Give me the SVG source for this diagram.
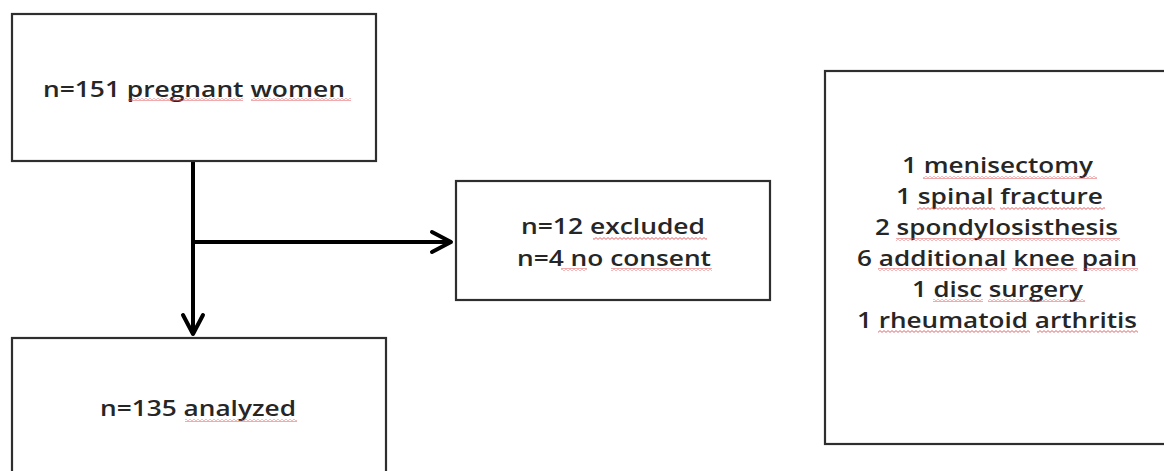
<svg xmlns="http://www.w3.org/2000/svg" width="1164" height="471" viewBox="0 0 1164 471">
<style>
.box{fill:#ffffff;stroke:#2e2e2e;stroke-width:2.2}
.lbl{font-family:"Open Sans","Liberation Sans",sans-serif;font-size:22px;font-weight:600;fill:#262626}
.conn{fill:none;stroke:#000000;stroke-width:4}
.sq{fill:url(#wave)}
</style>
<defs>
<pattern id="wave" patternUnits="userSpaceOnUse" x="0" y="0" width="4" height="3">
<path d="M0,0.6 L2,2.4 L4,0.6" fill="none" stroke="#e0555a" stroke-width="0.9"/>
</pattern>
<marker id="arr" markerUnits="userSpaceOnUse" viewBox="-26 -14 30 28" markerWidth="30" markerHeight="28" refX="0" refY="0" orient="auto">
<path d="M-19,-10 L0,0 L-19,10" fill="none" stroke="#000000" stroke-width="4" stroke-linejoin="round" stroke-linecap="round"/>
</marker>
</defs>
<rect width="1164" height="471" fill="#ffffff"/>
<g id="connectors">
<path class="conn" d="M193,161 L193,334" marker-end="url(#arr)"/>
<path class="conn" d="M193,242 L451,242" marker-end="url(#arr)"/>
</g>
<g id="node-pregnant">
<rect class="box" x="12" y="14" width="364" height="147"/>
<text class="lbl" x="43" y="97" textLength="302" lengthAdjust="spacingAndGlyphs">n=151  pregnant women</text>
<rect class="sq" x="128" y="98" width="115" height="3"/>
<rect class="sq" x="251" y="98" width="100" height="3"/>
</g>
<g id="node-excluded">
<rect class="box" x="456" y="181" width="314" height="119"/>
<text class="lbl" x="521" y="234" textLength="184" lengthAdjust="spacingAndGlyphs">n=12 excluded</text>
<text class="lbl" x="517" y="266" textLength="194" lengthAdjust="spacingAndGlyphs">n=4 no consent</text>
<rect class="sq" x="593" y="237" width="114" height="3"/>
<rect class="sq" x="561" y="268" width="26" height="3"/>
<rect class="sq" x="611" y="268" width="101" height="3"/>
</g>
<g id="node-analyzed">
<rect class="box" x="12" y="338" width="374" height="200"/>
<text class="lbl" x="100" y="416" textLength="196" lengthAdjust="spacingAndGlyphs">n=135 analyzed</text>
<rect class="sq" x="185" y="419" width="112" height="3"/>
</g>
<g id="node-conditions">
<rect class="box" x="825" y="71" width="400" height="373"/>
<text class="lbl" x="902" y="173" textLength="191" lengthAdjust="spacingAndGlyphs">1 menisectomy</text>
<text class="lbl" x="896" y="204" textLength="207" lengthAdjust="spacingAndGlyphs">1 spinal fracture</text>
<text class="lbl" x="875" y="235" textLength="243" lengthAdjust="spacingAndGlyphs">2 spondylosisthesis</text>
<text class="lbl" x="857" y="266" textLength="280" lengthAdjust="spacingAndGlyphs">6 additional knee pain</text>
<text class="lbl" x="912" y="297" textLength="171" lengthAdjust="spacingAndGlyphs">1 disc surgery</text>
<text class="lbl" x="857" y="328" textLength="280" lengthAdjust="spacingAndGlyphs">1 rheumatoid arthritis</text>
<rect class="sq" x="923" y="176" width="174" height="3"/>
<rect class="sq" x="917" y="207" width="78" height="3"/>
<rect class="sq" x="1000" y="207" width="105" height="3"/>
<rect class="sq" x="896" y="238" width="224" height="3"/>
<rect class="sq" x="878" y="268" width="129" height="3"/>
<rect class="sq" x="1012" y="268" width="65" height="3"/>
<rect class="sq" x="1083" y="268" width="55" height="3"/>
<rect class="sq" x="933" y="299" width="50" height="3"/>
<rect class="sq" x="988" y="299" width="97" height="3"/>
<rect class="sq" x="878" y="330" width="152" height="3"/>
<rect class="sq" x="1037" y="330" width="101" height="3"/>
</g>
</svg>
